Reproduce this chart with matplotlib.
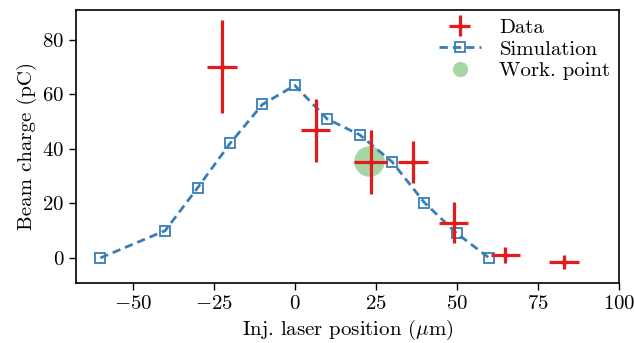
import matplotlib
matplotlib.use('Agg')
import matplotlib.pyplot as plt
from matplotlib.lines import Line2D
import numpy as np

plt.rcParams['font.family'] = 'cmr10'
plt.rcParams['mathtext.fontset'] = 'cm'
plt.rcParams['axes.formatter.use_mathtext'] = True
plt.rcParams['axes.unicode_minus'] = True

# simulation scan
sim_x = [-60, -40, -30, -20, -10, 0, 10, 20, 30, 40, 50, 60]
sim_y = [0, 10, 25.7, 42, 56.3, 63.3, 51, 45.2, 35.3, 20.3, 9, 0]

# measured data
data_x = [-22.5, 6.5, 23.4, 36.6, 49, 65, 83]
data_y = [70.2, 46.8, 35.3, 35.3, 12.9, 1.1, -1.5]
data_xerr = [4.6, 4.5, 5, 4.6, 4.6, 4.5, 4.6]
data_yerr = [17, 11.6, 11.8, 7.7, 7.5, 3, 2.5]

# working point
wp_x = [23]
wp_y = [35.5]

red = '#e41a1c'
blue = '#377eb8'
green = '#4daf4a'
fs = 15

fig = plt.figure(figsize=(6.34, 3.43), dpi=100)
ax = fig.add_axes([0.12, 0.175, 0.856, 0.796])

ax.plot(wp_x, wp_y, 'o', color=green, alpha=0.5, markersize=22, markeredgewidth=0, zorder=1)
sim, = ax.plot(sim_x, sim_y, '--s', color=blue, markerfacecolor='none', markersize=7.5,
               markeredgewidth=1.3, linewidth=2, dashes=(3, 1.8), zorder=2)
dat = ax.errorbar(data_x, data_y, xerr=data_xerr, yerr=data_yerr, fmt='d', color=red,
                  markersize=4, elinewidth=2.3, capsize=0, zorder=3)
wp_proxy = Line2D([], [], linestyle='none', marker='o', color=green, alpha=0.5,
                  markersize=11, markeredgewidth=0)

ax.set_xlim(-67.5, 100)
ax.set_ylim(-9.2, 91)
ax.set_xticks([-50, -25, 0, 25, 50, 75, 100])
ax.set_yticks([0, 20, 40, 60, 80])
ax.tick_params(direction='out', length=5, width=1, labelsize=fs)
for s in ax.spines.values():
    s.set_linewidth(1.2)

ax.set_xlabel(r'Inj. laser position ($\mu$m)', fontsize=fs)
ax.set_ylabel('Beam charge (pC)', fontsize=fs)

ax.legend([dat, sim, wp_proxy], ['Data', 'Simulation', 'Work. point'], loc='upper right',
          frameon=False, fontsize=fs, handlelength=2, labelspacing=0.15,
          borderaxespad=0.1, handletextpad=0.9, borderpad=0.3)

fig.savefig('out.png', dpi=100)
